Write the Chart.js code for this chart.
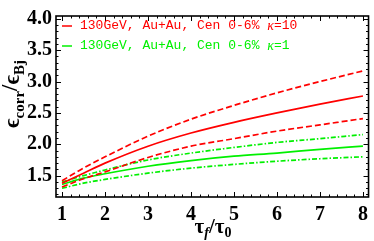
<!DOCTYPE html>
<html>
<head>
<meta charset="utf-8">
<script src="https://cdn.jsdelivr.net/npm/chart.js@4.4.1/dist/chart.umd.min.js"></script>
<style>
  body { margin: 0; background: #fff; }
  #wrap { width: 374px; height: 241px; }
</style>
</head>
<body>
<div id="wrap"><canvas id="chart" width="374" height="241"></canvas></div>
<script>
// values (tau_f/tau_0 -> eps_corr/eps_Bj)
const xs = [1, 1.5, 2, 3, 4, 5, 6, 7, 8];
const redUpper = [1.42, 1.62, 1.80, 2.13, 2.40, 2.62, 2.82, 3.00, 3.17];
const redMid   = [1.38, 1.54, 1.70, 1.97, 2.18, 2.35, 2.50, 2.64, 2.77];
const redLower = [1.32, 1.45, 1.56, 1.79, 1.97, 2.09, 2.21, 2.31, 2.41];
const greenUpper = [1.40, 1.50, 1.59, 1.75, 1.86, 1.95, 2.03, 2.09, 2.155];
const greenMid   = [1.36, 1.46, 1.53, 1.65, 1.74, 1.81, 1.86, 1.92, 1.97];
const greenLower = [1.30, 1.38, 1.44, 1.54, 1.62, 1.68, 1.73, 1.77, 1.80];

const xTicks = [1, 2, 3, 4, 5, 6, 7, 8];
const yTicks = [1.5, 2.0, 2.5, 3.0, 3.5, 4.0];
const legendRows = [
  { text: "130GeV, Au+Au, Cen 0-6% ", k: "=10", color: "#ff0000" },
  { text: "130GeV, Au+Au, Cen 0-6% ", k: "=1", color: "#00f000" }
];

const RED = "#ff0000", GREEN = "#00f000";

function pts(ys) {
  return xs.map((x, i) => ({ x: x, y: ys[i] }));
}

function line(ys, color, dash) {
  return {
    data: pts(ys),
    borderColor: color,
    borderWidth: 1.7,
    borderDash: dash,
    pointRadius: 0,
    showLine: true,
    fill: false,
    cubicInterpolationMode: "monotone"
  };
}

// frame, inside ticks, legend and axis titles (Mathematica look)
const frameStuff = {
  id: "frameStuff",
  afterDraw(chart) {
    const ctx = chart.ctx;
    const a = chart.chartArea;
    const sx = chart.scales.x, sy = chart.scales.y;
    ctx.save();
    ctx.strokeStyle = "#000";
    ctx.lineWidth = 1;
    // ticks
    ctx.beginPath();
    for (let v = 1; v <= 8.001; v += 0.2) {
      const px = Math.round(sx.getPixelForValue(v)) + 0.5;
      const major = Math.abs(v - Math.round(v)) < 0.01;
      const len = major ? 5 : 2.5;
      ctx.moveTo(px, a.bottom); ctx.lineTo(px, a.bottom - len);
      ctx.moveTo(px, a.top); ctx.lineTo(px, a.top + len);
    }
    for (let v = 1.2; v <= 4.001; v += 0.1) {
      const py = Math.round(sy.getPixelForValue(v)) + 0.5;
      const major = Math.abs(v * 2 - Math.round(v * 2)) < 0.01;
      const len = major ? 5 : 2.5;
      ctx.moveTo(a.left, py); ctx.lineTo(a.left + len, py);
      ctx.moveTo(a.right, py); ctx.lineTo(a.right - len, py);
    }
    ctx.stroke();
    ctx.lineWidth = 1.6;
    ctx.strokeRect(a.left, a.top, a.right - a.left, a.bottom - a.top);

    // legend
    legendRows.forEach((r, i) => {
      const y = 26 + i * 20;
      ctx.strokeStyle = r.color;
      ctx.lineWidth = 1.5;
      ctx.beginPath();
      ctx.moveTo(62, y); ctx.lineTo(72, y);
      ctx.stroke();
      ctx.fillStyle = r.color;
      ctx.textBaseline = "middle";
      ctx.font = "13px 'Liberation Mono'";
      let x = 80;
      ctx.fillText(r.text, x, y);
      x += ctx.measureText(r.text).width;
      ctx.font = "italic 14px 'Liberation Serif'";
      ctx.fillText("\u03ba", x, y);
      x += ctx.measureText("\u03ba").width;
      ctx.font = "13px 'Liberation Mono'";
      ctx.fillText(r.k, x, y);
    });

    // y title: eps_corr / eps_Bj
    ctx.fillStyle = "#000";
    ctx.textBaseline = "alphabetic";
    const big = "bold 23px 'Liberation Serif'", small = "bold 15px 'Liberation Serif'";
    const yParts = [["\u03f5", big, 0], ["corr", small, 5], ["/", big, -2], ["\u03f5", big, 0], ["Bj", small, 5]];
    drawParts(ctx, yParts, 19, 94, true);

    // x title: tau_f / tau_0
    const bigX = "bold 21px 'Liberation Serif'";
    const xParts = [["\u03c4", bigX, 0], ["f", "bold italic 14px 'Liberation Serif'", 4],
                    ["/", bigX, 0], ["\u03c4", bigX, 0], ["0", "bold 14px 'Liberation Serif'", 4]];
    drawParts(ctx, xParts, 213, 233, false);
    ctx.restore();
  }
};

function drawParts(ctx, parts, cx, base, rotate) {
  let w = 0;
  parts.forEach(p => { ctx.font = p[1]; w += ctx.measureText(p[0]).width; });
  ctx.save();
  ctx.translate(cx, base);
  if (rotate) ctx.rotate(-Math.PI / 2);
  let x = -w / 2;
  parts.forEach(p => {
    ctx.font = p[1];
    ctx.fillText(p[0], x, p[2]);
    x += ctx.measureText(p[0]).width;
  });
  ctx.restore();
}

new Chart(document.getElementById("chart"), {
  type: "scatter",
  data: {
    datasets: [
      line(redUpper, RED, [6, 3]),
      line(redMid, RED, []),
      line(redLower, RED, [6, 3]),
      line(greenUpper, GREEN, [5, 2, 1.5, 2]),
      line(greenMid, GREEN, []),
      line(greenLower, GREEN, [5, 2, 1.5, 2])
    ]
  },
  options: {
    responsive: false,
    animation: false,
    layout: { padding: { top: 4, right: 3, left: 0, bottom: 0 } },
    plugins: { legend: { display: false }, tooltip: { enabled: false } },
    scales: {
      x: {
        type: "linear",
        min: 0.86, max: 8.13,
        afterBuildTicks: s => { s.ticks = xTicks.map(v => ({ value: v })); },
        afterFit: s => { s.height = 44; },
        grid: { display: false, drawTicks: false },
        border: { display: false },
        ticks: { color: "#000", padding: 6, maxRotation: 0, font: { family: "'Liberation Serif'", size: 20, weight: "bold" } }
      },
      y: {
        type: "linear",
        min: 1.16, max: 4.045,
        afterBuildTicks: s => { s.ticks = yTicks.map(v => ({ value: v })); },
        afterFit: s => { s.width = 56; },
        grid: { display: false, drawTicks: false },
        border: { display: false },
        ticks: { color: "#000", padding: 4, font: { family: "'Liberation Serif'", size: 20, weight: "bold" },
                 callback: v => v.toFixed(1) }
      }
    }
  },
  plugins: [frameStuff]
});
</script>
</body>
</html>
